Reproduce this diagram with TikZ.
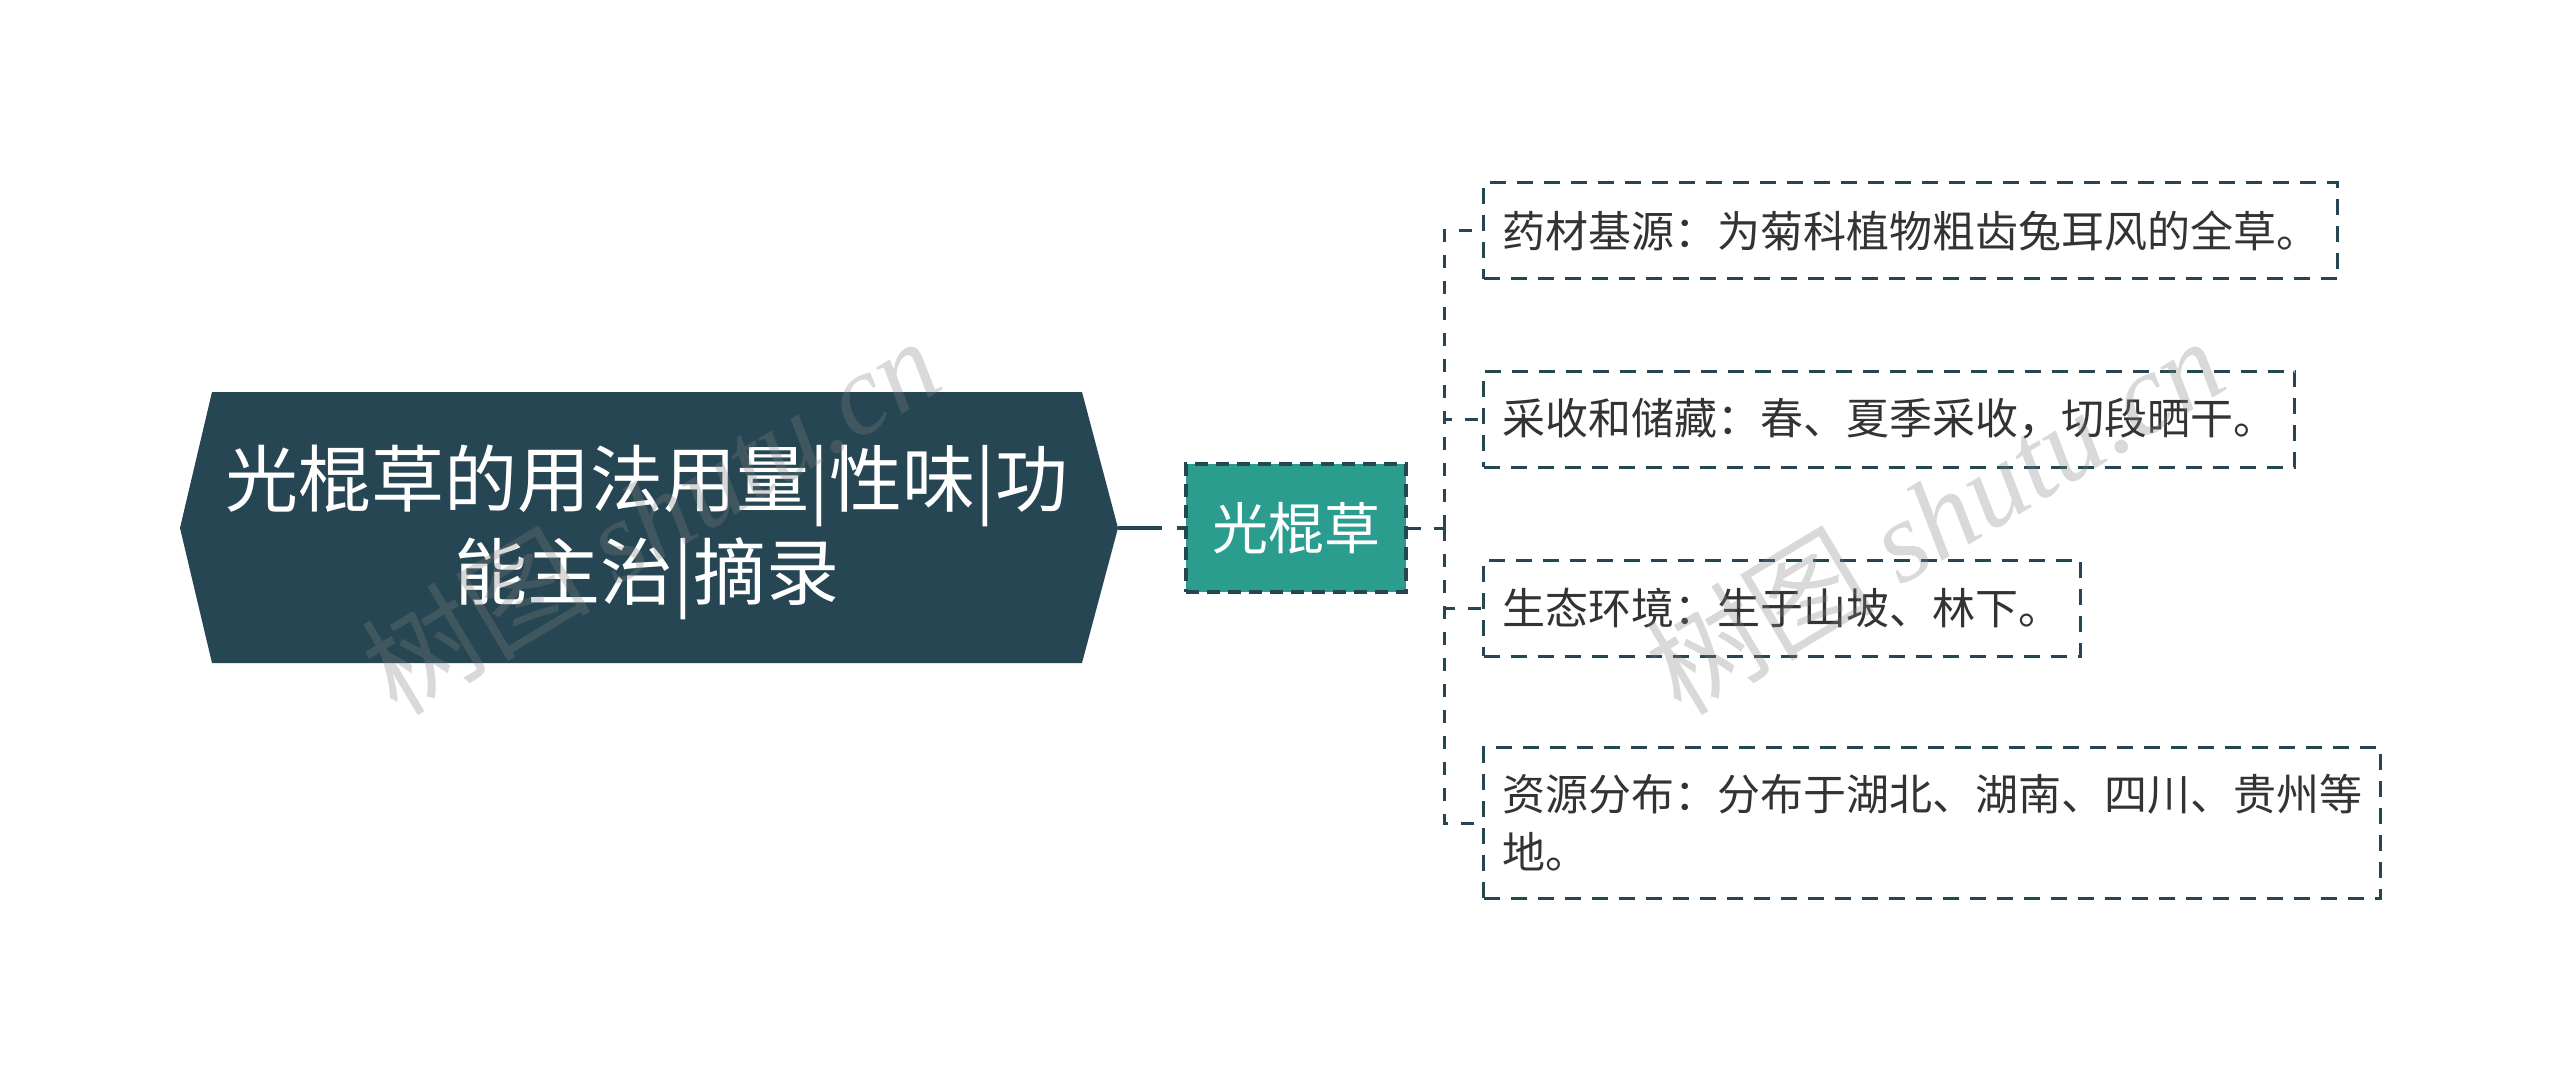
\documentclass[tikz,border=0pt]{standalone}
\usepackage{fontspec}
\setmainfont{Noto Sans CJK SC}
\newfontfamily\wmlatin{Liberation Serif}
\definecolor{rootc}{HTML}{264653}
\definecolor{tealc}{HTML}{2A9D8F}
\definecolor{linec}{HTML}{264653}
\definecolor{txtc}{HTML}{333333}
\tikzset{
  leafbox/.style={draw=linec, line width=3pt, dash pattern=on 16pt off 11pt,
    inner xsep=18.5pt, inner ysep=0pt, minimum height=96pt, anchor=west,
    align=left, text=txtc, font=\fontsize{43pt}{58pt}\selectfont},
  mainbox/.style={fill=tealc, draw=linec, line width=4.5pt, dash pattern=on 13pt off 8pt,
    minimum width=220pt, minimum height=128pt, inner sep=0pt, text=white,
    font=\fontsize{56pt}{60pt}\selectfont},
  roottext/.style={text=white, align=center, inner sep=0pt,
    font=\fontsize{73pt}{93pt}\selectfont},
  conn/.style={draw=linec, line width=3pt, dash pattern=on 13pt off 13pt},
  rootconn/.style={draw=linec, line width=4.5pt, dash pattern=on 44pt off 15pt},
  wm/.style={text=gray, opacity=0.3, inner sep=0pt, font=\fontsize{115pt}{115pt}\selectfont},
}
\begin{document}
\begin{tikzpicture}[x=1pt,y=-1pt]
\useasboundingbox (0,0) rectangle (2560,1083);
% root hexagon
\fill[rootc] (180,528) -- (212,392) -- (1082,392) -- (1118,528) -- (1082,663) -- (212,663) -- cycle;
\coordinate (rootR) at (1118,528);
\node[roottext] (root) at (647,532) {光棍草的用法用量|性味|功\\能主治|摘录};
% main topic
\node[mainbox] (main) at (1296,528) {光棍草};
\draw[rootconn] (rootR) -- (main.west);
% leaves
\node[leafbox, minimum width=853pt] (b1) at (1482,231) {药材基源：为菊科植物粗齿兔耳风的全草。};
\node[leafbox, minimum width=811pt] (b2) at (1482,419) {采收和储藏：春、夏季采收，切段晒干。};
\node[leafbox, minimum width=597pt] (b3) at (1482,608) {生态环境：生于山坡、林下。};
\node[leafbox, minimum width=897pt, minimum height=151pt] (b4) at (1482,823) {资源分布：分布于湖北、湖南、四川、贵州等\\地。};
% connectors
\coordinate (j) at (1444,528);
\draw[conn] (main.east) -- (j);
\draw[conn] (j) |- (b1.west);
\draw[conn] (j) |- (b2.west);
\draw[conn] (j) |- (b3.west);
\draw[conn] (j) |- (b4.west);
% watermarks
\node[wm, rotate=31] (wm1) at (650,515) {树图 {\wmlatin\itshape shutu.cn}};
\node[wm, rotate=31] (wm2) at (1934,515) {树图 {\wmlatin\itshape shutu.cn}};
\end{tikzpicture}
\end{document}
